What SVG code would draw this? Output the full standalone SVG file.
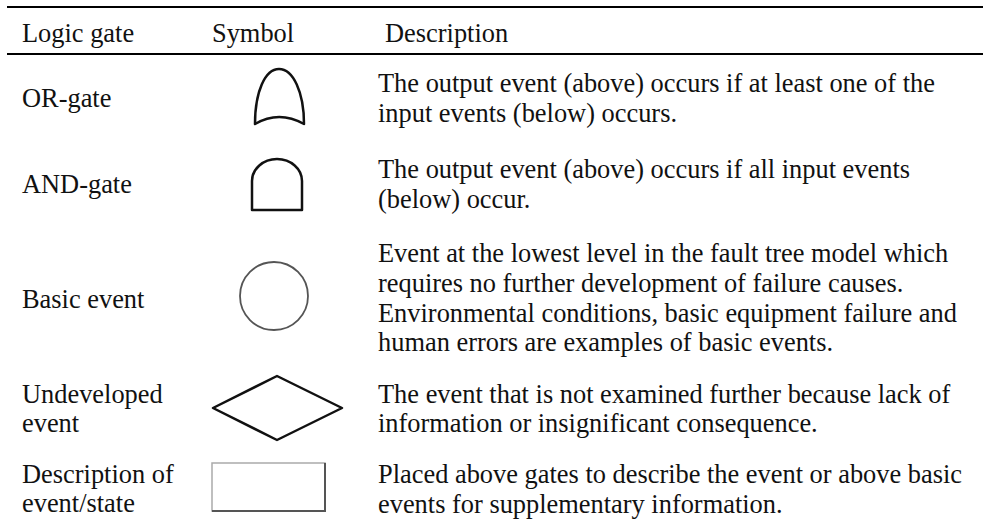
<svg xmlns="http://www.w3.org/2000/svg" width="983" height="526" viewBox="0 0 983 526">
<style>
text{font-family:"Liberation Serif","Times New Roman",serif;font-size:26.4px;fill:#111}
.rule{stroke:#000;stroke-width:2.2}
.sym{fill:none;stroke:#111;stroke-width:2.5;stroke-linejoin:round}
</style>
<rect width="983" height="526" fill="#fff"/>
<g id="header">
<line class="rule" x1="7" y1="7" x2="983" y2="7"/>
<line class="rule" x1="7" y1="54" x2="983" y2="54"/>
<text x="22" y="42">Logic gate</text>
<text x="212" y="42">Symbol</text>
<text x="385" y="42">Description</text>
</g>
<g id="or-gate">
<text x="22" y="107">OR-gate</text>
<path class="sym" d="M255,124 C255,92 265,69 279,69 C293,69 304,92 304,124 Q279,110 255,124 Z"/>
<text x="378" y="92">The output event (above) occurs if at least one of the</text>
<text x="378" y="122">input events (below) occurs.</text>
</g>
<g id="and-gate">
<text x="22" y="193">AND-gate</text>
<path class="sym" d="M252,210 L252,181 A25,22 0 0 1 302,181 L302,210 Z"/>
<text x="378" y="178">The output event (above) occurs if all input events</text>
<text x="378" y="208">(below) occur.</text>
</g>
<g id="basic-event">
<text x="22" y="308">Basic event</text>
<circle cx="274" cy="296" r="34" fill="none" stroke="#555" stroke-width="1.8"/>
<text x="378" y="262">Event at the lowest level in the fault tree model which</text>
<text x="378" y="292">requires no further development of failure causes.</text>
<text x="378" y="322">Environmental conditions, basic equipment failure and</text>
<text x="378" y="351">human errors are examples of basic events.</text>
</g>
<g id="undeveloped-event">
<text x="22" y="403">Undeveloped</text>
<text x="22" y="432">event</text>
<polygon class="sym" stroke-width="2.2" points="213,408 277,376 342,408 277,440"/>
<text x="378" y="403">The event that is not examined further because lack of</text>
<text x="378" y="432">information or insignificant consequence.</text>
</g>
<g id="description-event">
<text x="22" y="483">Description of</text>
<text x="22" y="512">event/state</text>
<rect x="212" y="463" width="113" height="48" fill="none" stroke="#aaa" stroke-width="1.5"/>
<path d="M325,463 L325,511 L212,511" fill="none" stroke="#555" stroke-width="2"/>
<text x="378" y="483">Placed above gates to describe the event or above basic</text>
<text x="378" y="513">events for supplementary information.</text>
</g>
</svg>
